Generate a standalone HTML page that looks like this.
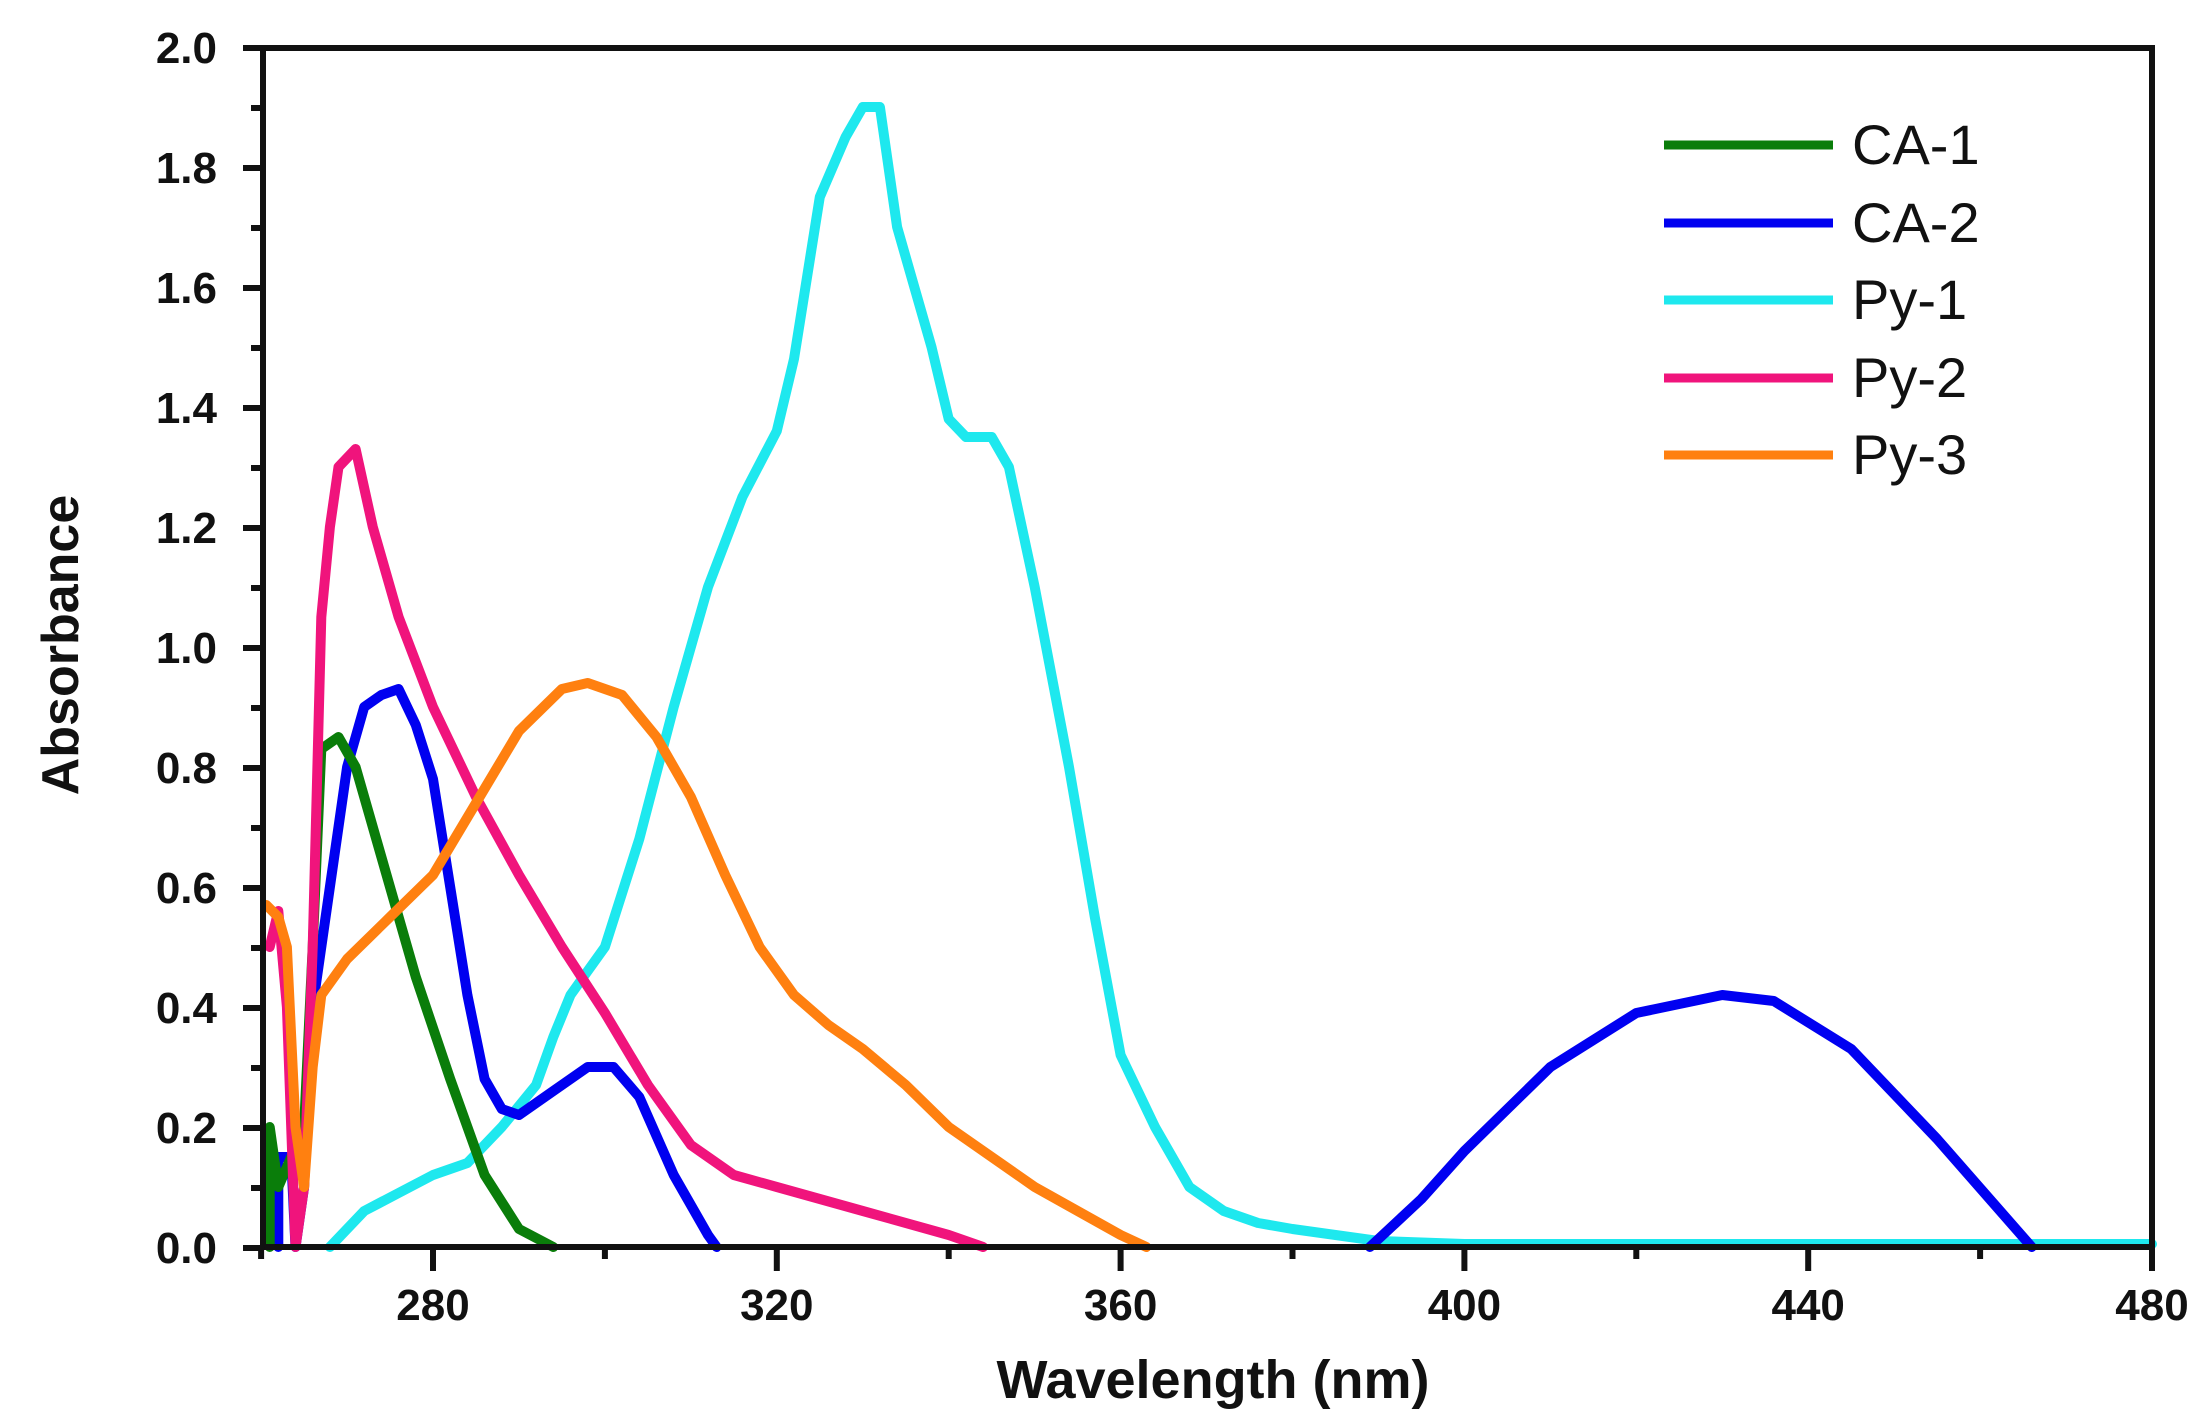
<!DOCTYPE html>
<html><head><meta charset="utf-8"><style>
html,body{margin:0;padding:0;background:#fff;}
svg{display:block;}
text{font-family:"Liberation Sans",Arial,sans-serif;}
</style></head><body>
<svg id="s" width="2211" height="1424" viewBox="0 0 2211 1424" xmlns="http://www.w3.org/2000/svg">
<rect width="2211" height="1424" fill="#fff"/>
<g id="curves" fill="none" stroke-width="10" stroke-linejoin="round" stroke-linecap="round"></g>
<g id="axes" stroke="#111" stroke-width="6" fill="none">
<rect x="263" y="48" width="1889" height="1199"/>
</g>
<g id="ticks" stroke="#111" stroke-width="6"></g>
<g id="labels" font-weight="bold" font-size="44" fill="#111"></g>
<text x="1213" y="1398" font-size="54" font-weight="bold" text-anchor="middle" fill="#111">Wavelength (nm)</text>
<text transform="translate(78,645) rotate(-90)" font-size="52" font-weight="bold" text-anchor="middle" fill="#111">Absorbance</text>
<g font-size="56" fill="#111">
<line x1="1664" y1="145" x2="1833" y2="145" stroke="#0a7d0a" stroke-width="9"/><text x="1852" y="164">CA-1</text>
<line x1="1664" y1="223" x2="1833" y2="223" stroke="#0000f0" stroke-width="9"/><text x="1852" y="242">CA-2</text>
<line x1="1664" y1="300" x2="1833" y2="300" stroke="#1ee8ee" stroke-width="9"/><text x="1852" y="319">Py-1</text>
<line x1="1664" y1="378" x2="1833" y2="378" stroke="#f0147c" stroke-width="9"/><text x="1852" y="397">Py-2</text>
<line x1="1664" y1="455" x2="1833" y2="455" stroke="#ff8010" stroke-width="9"/><text x="1852" y="474">Py-3</text>
</g>
</svg>
<script>
var NS="http://www.w3.org/2000/svg";
function X(w){return 433+(w-280)*8.595;}
function Y(a){return 1247-a*600;}
function el(p,t,a,txt){var e=document.createElementNS(NS,t);for(var k in a)e.setAttribute(k,a[k]);if(txt!==undefined)e.textContent=txt;document.getElementById(p).appendChild(e);}
for(var i=0;i<=10;i++){var y=48+i*120;el("ticks","line",{x1:243,y1:y,x2:263,y2:y});el("labels","text",{x:217,y:y+15,"text-anchor":"end"},(2-i*0.2).toFixed(1));}
for(var i=0;i<10;i++){var y=108+i*120;el("ticks","line",{x1:251,y1:y,x2:263,y2:y});}
for(var w=280;w<=480;w+=40){var x=X(w);el("ticks","line",{x1:x,y1:1247,x2:x,y2:1271});el("labels","text",{x:x,y:1320,"text-anchor":"middle"},""+w);}
for(var w=260;w<=460;w+=40){var x=X(w);el("ticks","line",{x1:x,y1:1247,x2:x,y2:1259});}
var D={
"#1ee8ee":[[268,0],[272,0.06],[276,0.09],[280,0.12],[284,0.14],[288,0.2],[292,0.27],[294,0.35],[296,0.42],[300,0.5],[304,0.68],[308,0.9],[312,1.1],[316,1.25],[320,1.36],[322,1.48],[325,1.75],[328,1.85],[330,1.9],[332,1.9],[334,1.7],[336,1.6],[338,1.5],[340,1.38],[342,1.35],[345,1.35],[347,1.3],[350,1.1],[354,0.8],[357,0.55],[360,0.32],[364,0.2],[368,0.1],[372,0.06],[376,0.04],[380,0.03],[390,0.01],[400,0.005],[480,0.005]],
"#0000f0":[[262,0],[262,0.15],[263.5,0.15],[264,0],[265,0.1],[266,0.4],[268,0.6],[270,0.8],[272,0.9],[274,0.92],[276,0.93],[278,0.87],[280,0.78],[282,0.6],[284,0.42],[286,0.28],[288,0.23],[290,0.22],[294,0.26],[298,0.3],[301,0.3],[304,0.25],[308,0.12],[312,0.02],[313,0]],
"#0000f1":[[389,0],[395,0.08],[400,0.16],[410,0.3],[420,0.39],[430,0.42],[436,0.41],[445,0.33],[455,0.18],[466,0]],
"#0a7d0a":[[261,0],[261,0.2],[262,0.1],[265,0.2],[266,0.5],[267,0.83],[269,0.85],[271,0.8],[274,0.65],[278,0.45],[282,0.28],[286,0.12],[290,0.03],[294,0]],
"#f0147c":[[261,0.5],[262,0.56],[263,0.4],[264,0],[265,0.1],[266,0.5],[267,1.05],[268,1.2],[269,1.3],[271,1.33],[273,1.2],[276,1.05],[280,0.9],[285,0.75],[290,0.62],[295,0.5],[300,0.39],[305,0.27],[310,0.17],[315,0.12],[320,0.1],[330,0.06],[340,0.02],[344,0]],
"#ff8010":[[260.6,0.57],[262,0.55],[263,0.5],[264,0.2],[265,0.1],[266,0.3],[267,0.42],[270,0.48],[275,0.55],[280,0.62],[285,0.74],[290,0.86],[295,0.93],[298,0.94],[302,0.92],[306,0.85],[310,0.75],[314,0.62],[318,0.5],[322,0.42],[326,0.37],[330,0.33],[335,0.27],[340,0.2],[350,0.1],[360,0.02],[363,0]]
};
for(var c in D){var d="";D[c].forEach(function(p,i){d+=(i?"L":"M")+X(p[0]).toFixed(1)+","+Y(p[1]).toFixed(1);});el("curves","path",{d:d,stroke:c});}
</script>
</body></html>
